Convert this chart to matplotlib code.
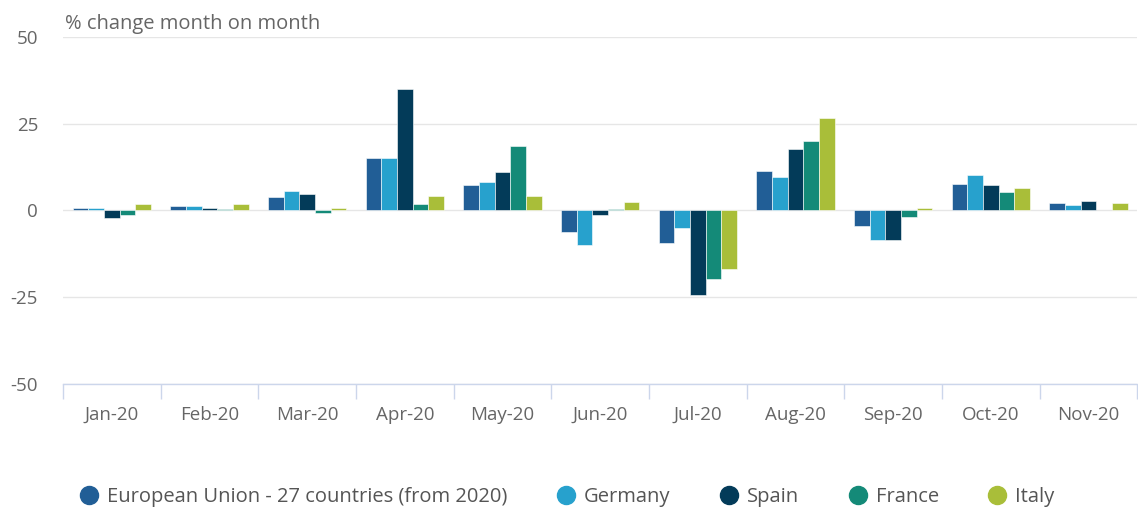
import numpy as np
import matplotlib
matplotlib.use('Agg')
import matplotlib.pyplot as plt
from matplotlib.lines import Line2D
from matplotlib.ticker import FuncFormatter

plt.rcParams['font.family'] = ['Open Sans', 'DejaVu Sans']

months = ['Jan-20', 'Feb-20', 'Mar-20', 'Apr-20', 'May-20', 'Jun-20',
          'Jul-20', 'Aug-20', 'Sep-20', 'Oct-20', 'Nov-20']
eu = [0.7, 1.3, 3.8, 15.1, 7.3, -6.1, -9.5, 11.3, -4.5, 7.7, 2.2]
germany = [0.7, 1.3, 5.7, 15.1, 8.2, -10.0, -5.0, 9.7, -8.5, 10.2, 1.7]
spain = [-2.2, 0.7, 4.8, 35.0, 11.2, -1.2, -24.4, 17.7, -8.5, 7.2, 2.7]
france = [-1.2, 0.3, -0.6, 1.8, 18.7, 0.3, -19.8, 20.1, -2.0, 5.2, np.nan]
italy = [1.8, 1.8, 0.7, 4.3, 4.3, 2.4, -17.0, 26.6, 0.8, 6.6, 2.2]

names = ['European Union - 27 countries (from 2020)', 'Germany', 'Spain', 'France', 'Italy']
colors = ['#215e96', '#27a1cd', '#033b59', '#148a78', '#a9be39']
series = [eu, germany, spain, france, italy]

fig = plt.figure(figsize=(11.38, 5.07), dpi=100)
ax = fig.add_axes([0.0554, 0.2426, 0.944, 0.6845])

x = np.arange(len(months))
w = 0.16
for i, (vals, c) in enumerate(zip(series, colors)):
    ax.bar(x + (i - 2) * w, vals, width=w, color=c, edgecolor='white', linewidth=0.4, zorder=3)

ax.set_xlim(-0.5, len(months) - 0.5)
ax.set_ylim(-50, 50)
ax.set_yticks([-50, -25, 0, 25, 50])
ax.yaxis.set_major_formatter(FuncFormatter(lambda v, p: '%d' % v))
ax.grid(axis='y', color='#e6e6e6', linewidth=1, zorder=0)
for s in ['top', 'right', 'left']:
    ax.spines[s].set_visible(False)
ax.spines['bottom'].set_color('#ccd6eb')
ax.spines['bottom'].set_linewidth(1)

ax.set_xticks(x)
ax.set_xticklabels(months)
ax.set_xticks(np.arange(-0.5, len(months)), minor=True)
ax.tick_params(axis='x', which='major', length=0, pad=16, labelsize=13.5, labelcolor='#666666')
ax.tick_params(axis='x', which='minor', length=11, color='#ccd6eb', width=1)
ax.tick_params(axis='y', length=0, pad=18, labelsize=13.5, labelcolor='#666666')

fig.text(0.057, 0.953, '% change month on month', fontsize=14.5, color='#666666', va='center')

handles = [Line2D([0], [0], marker='o', linestyle='', markersize=13, color=c) for c in colors]
fig.legend(handles, names, loc='center', bbox_to_anchor=(0.498, 0.02), ncol=5, frameon=False,
           fontsize=14.5, labelcolor='#555555', handletextpad=0.4, columnspacing=2.4, handlelength=1)

fig.savefig('out.png', dpi=100)
